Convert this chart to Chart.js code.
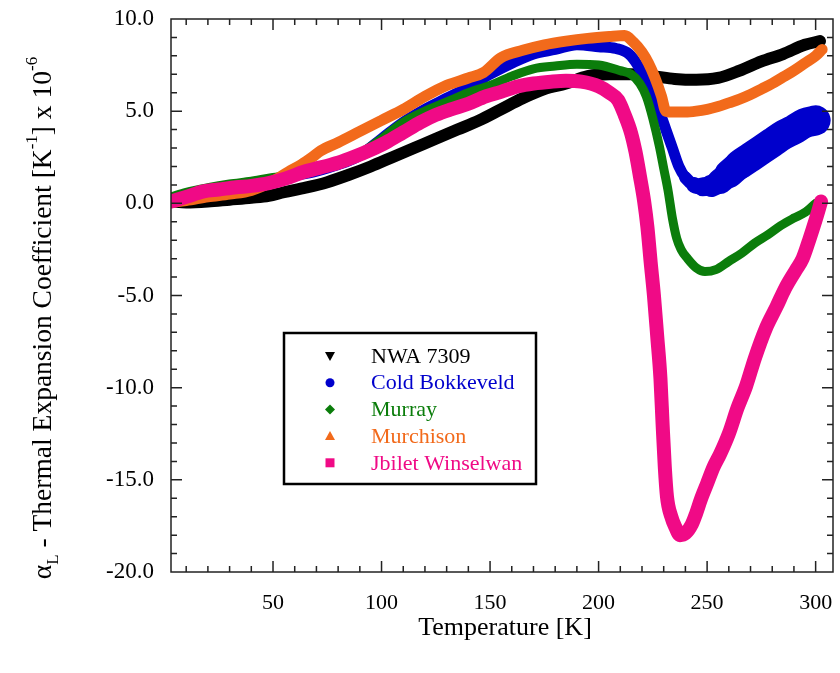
<!DOCTYPE html>
<html>
<head>
<meta charset="utf-8">
<script src="https://cdn.jsdelivr.net/npm/chart.js@4.4.0/dist/chart.umd.min.js"></script>
<style>
  html, body { margin: 0; padding: 0; background: #fff; }
  #wrap { width: 840px; height: 673px; position: relative; }
</style>
</head>
<body>
<div id="wrap"><canvas id="grafico"></canvas></div>
<script>
// Dados (temperatura em K, coeficiente x 10^-6)
const nwaT = [3, 10, 20, 30, 40, 48, 55, 65, 75, 85, 95, 105, 115, 125, 135, 145, 155, 165, 175, 185, 195, 205, 215, 225, 235, 245, 255, 265, 275, 285, 295, 302];
const nwaV = [0.1, 0.05, 0.1, 0.2, 0.3, 0.4, 0.6, 0.85, 1.15, 1.55, 2.0, 2.5, 3.0, 3.5, 4.0, 4.5, 5.1, 5.7, 6.2, 6.5, 6.9, 7.0, 7.0, 6.9, 6.75, 6.7, 6.8, 7.2, 7.7, 8.1, 8.6, 8.8];

const coldT = [3, 10, 20, 30, 40, 50, 60, 70, 80, 90, 100, 110, 120, 130, 140, 150, 160, 170, 180, 190, 200, 208, 214, 218, 222, 225, 228, 231, 234, 237, 240, 244, 248, 252, 256, 260, 265, 270, 275, 280, 285, 290, 295, 300];
const coldV = [0.2, 0.4, 0.65, 0.85, 1.05, 1.25, 1.5, 1.75, 2.1, 2.6, 3.5, 4.4, 5.1, 5.7, 6.3, 7.0, 7.6, 8.1, 8.35, 8.6, 8.5, 8.4, 8.1, 7.5, 6.6, 5.8, 5.0, 4.0, 3.0, 2.0, 1.4, 1.0, 0.9, 0.95, 1.2, 1.6, 2.1, 2.5, 2.9, 3.3, 3.7, 4.0, 4.35, 4.5];

const murrayT = [3, 10, 20, 30, 40, 50, 60, 70, 80, 90, 100, 110, 120, 130, 140, 150, 160, 170, 180, 190, 200, 210, 215, 219, 222, 225, 228, 230, 232, 234, 236, 238, 241, 245, 249, 254, 260, 266, 272, 278, 284, 290, 295, 300];
const murrayV = [0.35, 0.6, 0.85, 1.05, 1.2, 1.4, 1.6, 1.9, 2.2, 2.7, 3.5, 4.4, 5.0, 5.5, 6.0, 6.4, 6.9, 7.3, 7.45, 7.55, 7.5, 7.2, 7.0, 6.5, 5.8, 4.6, 3.1, 1.9, 0.7, -0.8, -1.9, -2.5, -3.0, -3.5, -3.7, -3.6, -3.15, -2.7, -2.15, -1.7, -1.2, -0.8, -0.5, 0.0];

const murchT = [3, 10, 20, 30, 40, 50, 57, 63, 68, 72, 80, 90, 100, 110, 120, 130, 140, 147, 155, 165, 175, 185, 195, 205, 212, 216, 220, 223, 226, 229, 231, 235, 240, 245, 250, 255, 260, 265, 270, 275, 280, 285, 290, 295, 300, 303];
const murchV = [0.05, 0.15, 0.35, 0.5, 0.7, 1.2, 1.7, 2.1, 2.5, 2.85, 3.3, 3.9, 4.5, 5.1, 5.8, 6.4, 6.8, 7.1, 7.9, 8.3, 8.6, 8.8, 8.95, 9.05, 9.1, 8.75, 8.2, 7.6, 6.8, 5.8, 5.0, 4.95, 4.95, 5.0, 5.1, 5.25, 5.45, 5.65, 5.9, 6.2, 6.5, 6.85, 7.2, 7.6, 8.0, 8.35];

const jbiletT = [3, 10, 18, 25, 33, 40, 48, 56, 64, 72, 80, 88, 95, 102, 110, 118, 125, 132, 140, 148, 155, 163, 170, 178, 185, 192, 200, 205, 209, 212, 215, 217, 219, 221, 222.5, 224, 225.5, 227, 228.5, 229.5, 230.5, 231.5, 233.5, 235.5, 237.5, 240, 243, 245, 247, 250, 253, 256, 260, 264, 268, 272, 277, 282, 286, 291, 294, 297, 300, 302.5];
const jbiletV = [0.1, 0.35, 0.65, 0.75, 0.87, 0.95, 1.1, 1.35, 1.7, 1.95, 2.2, 2.55, 2.9, 3.3, 3.85, 4.4, 4.8, 5.1, 5.4, 5.8, 6.05, 6.35, 6.5, 6.6, 6.65, 6.6, 6.35, 6.0, 5.6, 4.8, 3.8, 2.8, 1.5, 0.1, -1.3, -3.2, -5.0, -7.2, -9.5, -12.0, -14.3, -15.9, -17.0, -17.6, -18.0, -17.9, -17.4, -16.8, -16.1, -15.2, -14.3, -13.6, -12.5, -11.1, -9.9, -8.4, -6.8, -5.6, -4.6, -3.6, -3.0, -2.0, -0.9, 0.1];

const xTicks = [50, 100, 150, 200, 250, 300];
const yTicks = [-20, -15, -10, -5, 0, 5, 10];

const FONTE = "'Liberation Serif', 'Times New Roman', serif";

const legenda = [
  { nome: 'NWA 7309', cor: '#000000', forma: 'trianguloBaixo' },
  { nome: 'Cold Bokkeveld', cor: '#0000cc', forma: 'circulo' },
  { nome: 'Murray', cor: '#0b7d0b', forma: 'losango' },
  { nome: 'Murchison', cor: '#f26a1b', forma: 'triangulo' },
  { nome: 'Jbilet Winselwan', cor: '#f00a86', forma: 'quadrado' }
];

function serie(label, temps, valores, cor, largura, ordem) {
  return {
    label,
    data: temps.map((t, i) => ({ x: t, y: valores[i] })),
    borderColor: cor,
    backgroundColor: cor,
    borderWidth: largura,
    borderCapStyle: 'round',
    borderJoinStyle: 'round',
    pointRadius: 0,
    cubicInterpolationMode: 'monotone',
    clip: 0,
    order: ordem
  };
}

const dsCold = serie('Cold Bokkeveld', coldT, coldV, legenda[1].cor, 11, 4);
// a faixa azul fica mais larga (mais ruído) no fim da curva
dsCold.segment = {
  borderWidth: c => {
    const t = c.p0.parsed.x;
    return t < 238 ? 11 : Math.min(30, 11 + (t - 238) * 0.8);
  }
};

// sem folga extra dos rótulos: a área do gráfico fica fixa
function semFolga(s) {
  s.paddingTop = 0; s.paddingBottom = 0; s.paddingLeft = 0; s.paddingRight = 0;
}

function desenhaMarcador(ctx, forma, x, y) {
  ctx.beginPath();
  if (forma === 'trianguloBaixo') {
    ctx.moveTo(x - 5, y - 4); ctx.lineTo(x + 5, y - 4); ctx.lineTo(x, y + 5);
  } else if (forma === 'triangulo') {
    ctx.moveTo(x - 5, y + 4); ctx.lineTo(x + 5, y + 4); ctx.lineTo(x, y - 5);
  } else if (forma === 'circulo') {
    ctx.arc(x, y, 4.5, 0, Math.PI * 2);
  } else if (forma === 'losango') {
    ctx.moveTo(x, y - 5); ctx.lineTo(x + 5, y); ctx.lineTo(x, y + 5); ctx.lineTo(x - 5, y);
  } else {
    ctx.rect(x - 4.5, y - 4.5, 9, 9);
  }
  ctx.closePath();
  ctx.fill();
}

// moldura, ticks para dentro, títulos dos eixos e legenda
const molduraPlugin = {
  id: 'moldura',
  afterDraw(chart) {
    const { ctx, chartArea: a, scales: { x, y } } = chart;
    ctx.save();
    ctx.strokeStyle = '#222';
    ctx.lineWidth = 1.5;
    ctx.strokeRect(a.left, a.top, a.right - a.left, a.bottom - a.top);
    ctx.beginPath();
    for (let t = 10; t <= 300; t += 10) {
      const px = x.getPixelForValue(t);
      const len = t % 50 === 0 ? 11 : 6;
      ctx.moveTo(px, a.bottom); ctx.lineTo(px, a.bottom - len);
      ctx.moveTo(px, a.top); ctx.lineTo(px, a.top + len);
    }
    for (let v = -19; v <= 9; v++) {
      const py = y.getPixelForValue(v);
      const len = v % 5 === 0 ? 11 : 6;
      ctx.moveTo(a.left, py); ctx.lineTo(a.left + len, py);
      ctx.moveTo(a.right, py); ctx.lineTo(a.right - len, py);
    }
    ctx.stroke();

    // título do eixo x
    ctx.fillStyle = '#000';
    ctx.font = '26px ' + FONTE;
    ctx.textAlign = 'center';
    ctx.textBaseline = 'middle';
    ctx.fillText('Temperature [K]', 505, 628);

    // título do eixo y com sub/sobrescritos
    const partes = [
      { t: 'α', s: 27.5, dy: 0 },
      { t: 'L', s: 17, dy: 10 },
      { t: ' - Thermal Expansion Coefficient [K', s: 27.5, dy: 0 },
      { t: '-1', s: 17, dy: -11 },
      { t: '] x 10', s: 27.5, dy: 0 },
      { t: '-6', s: 17, dy: -11 }
    ];
    let total = 0;
    partes.forEach(p => { ctx.font = p.s + 'px ' + FONTE; p.w = ctx.measureText(p.t).width; total += p.w; });
    ctx.translate(44, 318);
    ctx.rotate(-Math.PI / 2);
    ctx.textAlign = 'left';
    ctx.textBaseline = 'middle';
    let cx = -total / 2;
    partes.forEach(p => {
      ctx.font = p.s + 'px ' + FONTE;
      ctx.fillText(p.t, cx, p.dy);
      cx += p.w;
    });
    ctx.setTransform(1, 0, 0, 1, 0, 0);

    // legenda
    ctx.fillStyle = '#fff';
    ctx.fillRect(284, 333, 252, 151);
    ctx.strokeStyle = '#000';
    ctx.lineWidth = 2.5;
    ctx.strokeRect(284, 333, 252, 151);
    ctx.font = '22px ' + FONTE;
    ctx.textAlign = 'left';
    ctx.textBaseline = 'middle';
    legenda.forEach((item, i) => {
      const ly = 356 + i * 26.7;
      ctx.fillStyle = item.cor;
      desenhaMarcador(ctx, item.forma, 330, ly);
      ctx.fillText(item.nome, 371, ly + 1);
    });
    ctx.restore();
  }
};

const ctx = document.getElementById('grafico').getContext('2d');
const chart = new Chart(ctx, {
  type: 'line',
  data: {
    datasets: [
      serie('NWA 7309', nwaT, nwaV, legenda[0].cor, 12, 5),
      dsCold,
      serie('Murray', murrayT, murrayV, legenda[2].cor, 9, 3),
      serie('Murchison', murchT, murchV, legenda[3].cor, 11, 2),
      serie('Jbilet Winselwan', jbiletT, jbiletV, legenda[4].cor, 14, 1)
    ]
  },
  options: {
    responsive: true,
    maintainAspectRatio: false,
    animation: false,
    events: [],
    layout: { autoPadding: false, padding: { top: 19, right: 7, left: 0, bottom: 0 } },
    plugins: { legend: { display: false }, tooltip: { enabled: false } },
    scales: {
      x: {
        type: 'linear',
        min: 3,
        max: 308,
        afterBuildTicks: s => { s.ticks = xTicks.map(v => ({ value: v })); },
        afterFit: s => { s.height = 101; semFolga(s); },
        grid: { display: false, drawTicks: false },
        border: { display: false },
        ticks: { color: '#000', font: { family: FONTE, size: 22 }, padding: 18, maxRotation: 0 }
      },
      y: {
        min: -20,
        max: 10,
        afterBuildTicks: s => { s.ticks = yTicks.map(v => ({ value: v })); },
        afterFit: s => { s.width = 171; semFolga(s); },
        grid: { display: false, drawTicks: false },
        border: { display: false },
        ticks: { color: '#000', font: { family: FONTE, size: 23 }, padding: 17, callback: v => v.toFixed(1) }
      }
    }
  },
  plugins: [molduraPlugin]
});
</script>
</body>
</html>
